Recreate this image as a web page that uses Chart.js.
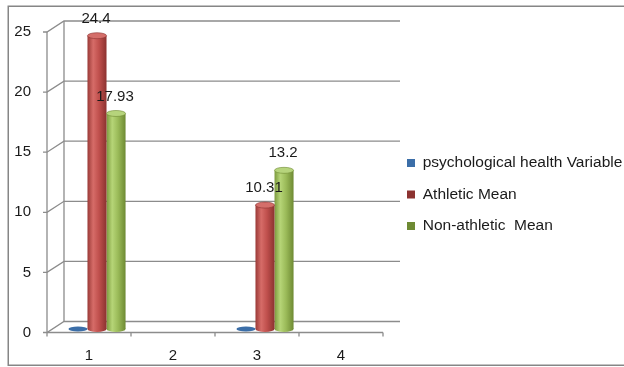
<!DOCTYPE html>
<html>
<head>
<meta charset="utf-8">
<script src="https://cdn.jsdelivr.net/npm/chart.js@4.4.0/dist/chart.umd.min.js"></script>
<style>
html, body { margin: 0; padding: 0; background: #fff; overflow: hidden; }
#wrap { position: relative; width: 624px; height: 367px; }
</style>
</head>
<body>
<div id="wrap"><canvas id="chart"></canvas></div>
<script>
// Data
const categories = ['1', '2', '3', '4'];
const psychValues = [0, null, 0, null];
const athleticMean = [24.4, null, 10.31, null];
const nonAthleticMean = [17.93, null, 13.2, null];
const yTicks = [0, 5, 10, 15, 20, 25];

const FONT = "'Liberation Sans', Arial, sans-serif";
const CAT_PCT = 0.68;

// 3D look: front plane and back wall offsets from the bar plane
const FRONT = { dx: -8, dy: 3.5 };
const BACK = { dx: 9, dy: -7.5 };

const shades = {
    blue: { base: '#4f81bd', top: '#3b6ea8', stops: ['#3b6ea8', '#4f81bd', '#3b6ea8'] },
    red: { base: '#c0504d', top: '#d46e6a', stops: ['#9a3a37', '#d66c68', '#c0504d', '#8c3230'] },
    green: { base: '#9bbb59', top: '#b6d47c', stops: ['#7c9a3e', '#b6d577', '#9bbb59', '#6e8a33'] }
};

function cylGradient(ctx, x0, x1, stops) {
    const g = ctx.createLinearGradient(x0, 0, x1, 0);
    if (stops.length === 3) {
        g.addColorStop(0, stops[0]); g.addColorStop(0.4, stops[1]); g.addColorStop(1, stops[2]);
    } else {
        g.addColorStop(0, stops[0]); g.addColorStop(0.3, stops[1]);
        g.addColorStop(0.6, stops[2]); g.addColorStop(1, stops[3]);
    }
    return g;
}

// per-bar gradient, computed from the category scale
function barFill(shade) {
    return c => {
        const s = c.chart.scales.x;
        if (!s || c.dataIndex === undefined || c.type !== 'data') return shade.base;
        const cat = s.width / categories.length;
        const slot = cat * CAT_PCT / 3;
        const cx = s.getPixelForValue(c.dataIndex) + (c.datasetIndex - 1) * slot;
        if (!Number.isFinite(cx) || !Number.isFinite(slot) || slot <= 0) return shade.base;
        return cylGradient(c.chart.ctx, cx - slot / 2, cx + slot / 2, shade.stops);
    };
}

const shadeList = [shades.blue, shades.red, shades.green];

const frame3d = {
    id: 'frame3d',
    beforeDraw(chart) {
        const ctx = chart.ctx;
        ctx.save();
        ctx.strokeStyle = '#868686';
        ctx.lineWidth = 1.5;
        ctx.strokeRect(8.25, 6.25, 640, 359);
        ctx.restore();
    },
    beforeDatasetsDraw(chart) {
        const { ctx, chartArea: a, scales: { x, y } } = chart;
        ctx.save();
        ctx.strokeStyle = '#8c8c8c';
        ctx.lineWidth = 1.3;
        const fx = a.left + FRONT.dx, bxL = a.left + BACK.dx, bxR = a.right + BACK.dx;
        yTicks.forEach(v => {
            const yf = y.getPixelForValue(v) + FRONT.dy;
            const yb = y.getPixelForValue(v) + BACK.dy;
            ctx.beginPath();
            ctx.moveTo(fx - 4, yf);
            ctx.lineTo(fx, yf);
            ctx.lineTo(bxL, yb);
            ctx.lineTo(bxR, yb);
            ctx.stroke();
        });
        const y0 = y.getPixelForValue(0), yMax = y.getPixelForValue(yTicks[yTicks.length - 1]);
        ctx.beginPath();
        ctx.moveTo(fx, y0 + FRONT.dy); ctx.lineTo(fx, yMax + FRONT.dy);
        ctx.moveTo(bxL, y0 + BACK.dy); ctx.lineTo(bxL, yMax + BACK.dy);
        // front category axis with tick marks
        const yf0 = y0 + FRONT.dy;
        ctx.moveTo(fx, yf0); ctx.lineTo(a.right + FRONT.dx, yf0);
        const cat = (a.right - a.left) / categories.length;
        for (let i = 0; i <= categories.length; i++) {
            const tx = fx + i * cat;
            ctx.moveTo(tx, yf0); ctx.lineTo(tx, yf0 + 4);
        }
        ctx.stroke();

        // bottom caps of the cylinders
        chart.data.datasets.forEach((ds, di) => {
            if (di === 0) return;
            chart.getDatasetMeta(di).data.forEach((el, i) => {
                if (ds.data[i] === null) return;
                const r = el.width / 2;
                ctx.beginPath();
                ctx.ellipse(el.x, el.base, r, 3, 0, 0, Math.PI * 2);
                ctx.fillStyle = cylGradient(ctx, el.x - r, el.x + r, shadeList[di].stops);
                ctx.fill();
            });
        });
        ctx.restore();
    },
    afterDatasetsDraw(chart) {
        const ctx = chart.ctx;
        ctx.save();
        chart.data.datasets.forEach((ds, di) => {
            chart.getDatasetMeta(di).data.forEach((el, i) => {
                const v = ds.data[i];
                if (v === null) return;
                const r = el.width / 2;
                ctx.beginPath();
                ctx.ellipse(el.x, el.y, r, di === 0 ? 2.5 : 3, 0, 0, Math.PI * 2);
                ctx.fillStyle = shadeList[di].top;
                ctx.fill();
                if (di > 0) {
                    ctx.strokeStyle = shadeList[di].stops[3];
                    ctx.lineWidth = 0.6;
                    ctx.stroke();
                    ctx.fillStyle = '#1a1a1a';
                    ctx.font = '15px ' + FONT;
                    ctx.textAlign = 'center';
                    ctx.textBaseline = 'middle';
                    ctx.fillText(String(v), el.x - 1, el.y - 17);
                }
            });
        });
        ctx.restore();
    }
};

new Chart(document.getElementById('chart'), {
    type: 'bar',
    data: {
        labels: categories,
        datasets: [
            { label: 'psychological health Variable', data: psychValues, backgroundColor: barFill(shades.blue), borderColor: shades.blue.base },
            { label: 'Athletic Mean', data: athleticMean, backgroundColor: barFill(shades.red), borderColor: shades.red.base },
            { label: 'Non-athletic  Mean', data: nonAthleticMean, backgroundColor: barFill(shades.green), borderColor: shades.green.base }
        ]
    },
    options: {
        responsive: true,
        maintainAspectRatio: false,
        animation: false,
        datasets: {
            bar: { categoryPercentage: CAT_PCT, barPercentage: 1, borderWidth: 0 }
        },
        layout: { padding: { left: 0, top: 28.5, right: 0, bottom: 0 } },
        scales: {
            x: {
                grid: { display: false, drawTicks: false },
                border: { display: false },
                ticks: { color: '#1a1a1a', font: { family: FONT, size: 15 }, padding: 18, labelOffset: -8 },
                afterFit: s => { s.height = 38; s.paddingLeft = 0; s.paddingRight = 0; }
            },
            y: {
                min: 0,
                max: yTicks[yTicks.length - 1],
                grid: { display: false, drawTicks: false },
                border: { display: false },
                ticks: {
                    stepSize: yTicks[1] - yTicks[0],
                    color: '#1a1a1a',
                    font: { family: FONT, size: 15 },
                    padding: 24,
                    labelOffset: 3.5
                },
                afterFit: s => { s.width = 55; s.paddingTop = 0; s.paddingBottom = 0; }
            }
        },
        plugins: {
            tooltip: { enabled: false },
            legend: {
                position: 'right',
                align: 'start',
                maxWidth: 233,
                // empty title used only as a spacer above the legend items
                title: { display: true, text: '', font: { size: 15, lineHeight: 1 }, padding: { top: 95.75, bottom: 0 } },
                labels: {
                    boxWidth: 8,
                    boxHeight: 8,
                    padding: 16,
                    color: '#1a1a1a',
                    font: { family: FONT, size: 15.5, lineHeight: 1 }
                }
            }
        }
    },
    plugins: [frame3d]
});
</script>
</body>
</html>
